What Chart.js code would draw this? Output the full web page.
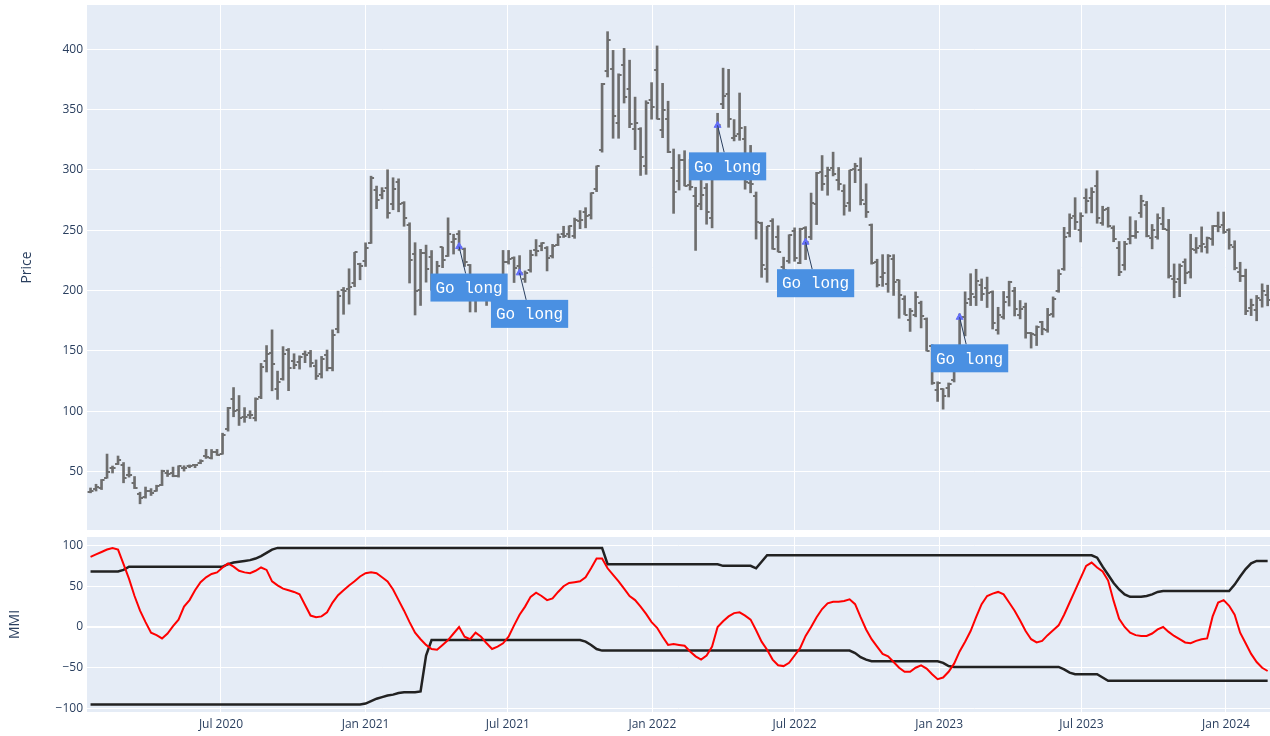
<!DOCTYPE html>
<html>
<head>
<meta charset="utf-8">
<script src="https://cdn.jsdelivr.net/npm/chart.js@4.4.0/dist/chart.umd.min.js"></script>
<style>
html,body{margin:0;padding:0;background:#ffffff;}
#wrap{position:relative;width:1270px;height:736px;overflow:hidden;background:#ffffff;}
#c1{position:absolute;left:0;top:0;}
#c2{position:absolute;left:0;top:531px;}
</style>
</head>
<body>
<div id="wrap">
<canvas id="c1" width="1270" height="531"></canvas>
<canvas id="c2" width="1270" height="205"></canvas>
</div>
<script>
// ---------------- DATA ----------------
// weekly bars (week ending Friday), first week ends 2020-01-17
const firstWeek = '2020-01-17';

const opens = [
 32.9,35.3,36.1,44.9,53.3,56.1,55.9,47.4,40.4,31.3,28.9,34.0,34.1,39.3,48.8,49.2,46.7,52.7,55.1,55.6,57.2,62.7,61.1,66.6,64.6,85.1,110.6,101.3,95.7,96.6,94.8,111.8,141.8,148.2,118.7,127.0,151.0,141.5,141.0,147.3,148.7,137.2,131.3,146.5,136.3,167.8,200.7,201.6,206.3,222.0,224.8,
 239.8,283.1,279.3,285.0,271.4,289.9,272.7,254.2,230.0,200.2,231.3,228.0,205.2,235.9,228.6,239.9,247.0,234.6,221.6,191.9,193.9,209.3,197.3,204.0,208.2,223.9,227.0,220.7,209.7,216.7,233.3,236.7,235.0,228.3,238.2,246.7,246.7,244.9,257.7,265.5,262.5,283.9,316.8,381.7,383.3,339.2,387.3,366.7,333.8,333.7,303.6,357.9,
 382.6,333.3,342.2,301.6,290.9,307.9,287.2,278.0,271.7,285.3,260.2,305.0,355.0,363.0,326.7,329.7,326.0,289.0,278.7,255.7,218.3,257.9,244.3,219.3,224.3,249.3,223.0,252.0,244.7,272.0,298.3,295.0,301.7,291.7,282.8,272.7,300.7,300.1,271.8,254.5,223.9,211.0,205.8,226.2,208.6,192.8,175.9,179.9,189.4,176.1,154.0,117.5,
 118.5,119.0,125.7,135.9,178.1,193.0,194.4,205.0,202.0,198.5,167.5,178.1,194.4,199.9,179.9,186.3,164.7,163.2,173.7,167.7,180.7,200.0,217.8,247.9,261.5,250.1,276.5,276.5,286.6,255.9,267.5,251.5,235.7,221.6,242.6,245.0,264.3,271.2,243.4,244.8,255.3,250.0,210.0,209.3,224.0,215.6,234.0,236.9,235.8,242.7,253.8,254.5,
 250.1,236.1,215.1,212.3,185.6,184.3,192.1,196.1
];
const highs = [
 36.5,39.6,43.5,64.6,54.7,63.0,57.6,53.8,46.0,33.0,37.3,36.0,38.8,51.3,51.3,53.8,54.9,54.9,55.6,56.0,59.9,68.5,68.4,68.5,81.9,103.3,119.7,113.1,103.1,100.5,111.2,139.7,154.5,167.5,133.3,153.6,152.1,147.7,146.0,150.0,150.5,142.6,145.5,150.8,167.5,199.6,202.6,218.1,231.7,222.7,239.6,
 294.8,286.6,285.3,300.1,293.5,292.6,273.7,256.2,239.7,234.2,237.7,233.2,224.3,236.0,260.3,246.7,249.7,235.3,221.7,201.0,211.9,211.3,203.5,208.3,233.3,233.3,228.0,229.0,216.3,233.5,242.3,239.7,236.5,238.3,247.0,253.3,253.7,260.1,266.3,268.7,281.1,303.3,371.7,414.5,399.0,379.6,400.7,390.9,360.3,335.0,357.3,372.3,
 402.7,371.7,356.9,317.3,312.7,315.9,308.8,285.6,296.6,288.7,302.3,346.9,384.3,383.3,341.7,363.7,336.0,320.3,281.7,256.7,253.3,259.6,253.7,227.7,246.3,252.0,251.7,253.0,280.8,298.0,311.9,302.3,314.7,302.0,287.7,299.8,305.5,310.0,288.5,255.2,226.0,229.8,229.9,229.8,208.9,195.7,185.2,198.9,191.3,177.4,155.2,124.5,
 118.8,123.5,136.7,180.7,199.0,214.0,217.7,209.7,211.2,199.8,186.2,199.3,207.8,202.7,191.8,189.7,165.3,170.8,174.6,185.3,194.8,217.3,252.4,263.6,277.0,264.5,284.3,285.3,299.3,269.9,269.1,253.7,240.7,240.8,261.2,258.0,279.0,273.9,254.8,263.6,268.9,259.0,222.1,222.1,226.3,246.7,244.0,252.8,244.4,253.9,265.1,265.1,
 251.3,241.3,223.5,217.8,193.0,196.0,205.6,204.5
];
const lows = [
 32.5,34.0,35.2,44.6,48.9,55.9,40.8,45.5,36.0,23.4,28.1,30.3,33.8,38.5,46.0,45.8,45.5,50.5,53.3,53.3,56.6,61.0,60.5,63.5,64.5,83.6,95.5,88.3,90.9,94.0,92.0,110.5,132.6,117.0,109.9,125.8,117.1,135.3,135.0,140.3,136.7,126.4,127.6,133.5,133.5,165.0,180.4,188.8,203.3,209.0,220.0,
 239.1,267.9,276.0,260.0,267.0,265.3,253.3,206.3,179.8,187.7,207.0,200.2,198.3,219.0,228.3,230.3,233.3,220.0,182.3,182.3,193.2,187.7,190.7,197.5,203.3,222.0,206.7,213.4,206.8,215.3,228.7,233.0,216.3,227.0,237.3,244.0,243.8,243.3,251.3,252.0,259.3,282.0,314.7,377.0,326.2,326.2,355.4,335.0,316.8,295.4,296.3,342.0,
 342.0,326.7,314.3,264.0,283.3,286.7,283.3,233.3,267.0,255.0,252.0,304.7,350.7,335.3,324.0,324.5,284.0,281.0,242.7,211.0,206.9,234.3,232.0,206.7,222.7,224.3,222.3,225.7,242.3,254.7,283.0,279.0,295.0,283.3,262.5,265.7,289.4,271.0,260.6,221.9,203.0,203.5,198.6,196.0,177.1,180.2,166.2,178.3,169.1,150.0,122.3,108.2,
 101.8,111.9,124.3,134.3,162.5,187.6,187.6,191.8,186.0,168.2,163.9,176.4,187.2,179.0,176.6,160.6,152.4,154.5,163.4,165.5,178.0,198.6,216.8,244.5,250.6,240.3,264.2,264.4,255.8,254.1,252.5,240.5,212.4,217.0,238.7,243.3,260.6,244.5,234.6,242.6,250.5,210.4,194.1,195.0,205.7,210.4,231.0,231.9,231.0,237.5,248.7,247.4,
 234.3,217.2,207.5,180.1,179.3,175.0,186.3,187.4
];
const closes = [
 34.0,37.7,43.4,49.9,53.3,60.1,44.5,46.9,36.4,28.5,34.3,32.0,38.2,50.3,48.3,46.8,54.6,53.3,54.5,55.7,59.0,62.4,66.7,64.0,80.6,103.0,100.1,94.5,95.4,96.8,110.0,136.7,147.6,139.4,124.2,147.4,135.8,138.4,144.7,146.6,140.2,129.3,143.3,136.2,163.2,195.3,199.7,203.3,231.7,220.6,235.2,
 293.3,275.4,282.2,264.5,284.1,272.0,260.4,225.2,199.3,231.2,218.3,206.2,220.6,225.7,246.6,243.1,236.5,224.1,196.6,193.6,208.4,199.7,203.3,207.8,224.0,226.3,219.0,214.7,214.5,229.1,233.0,239.1,226.8,237.3,244.5,245.4,253.2,258.1,258.4,261.8,281.0,303.2,371.3,407.4,344.5,379.0,360.6,338.3,339.0,310.9,355.7,352.3,
 342.3,349.9,314.6,282.1,307.8,286.7,285.7,270.0,279.4,265.1,301.8,336.9,361.5,341.8,328.3,335.0,290.3,288.6,256.5,221.3,253.2,234.5,232.2,216.8,245.7,227.3,250.8,240.1,272.2,297.2,288.2,300.0,296.7,288.1,270.2,299.7,303.4,275.3,265.3,223.1,205.0,214.4,228.5,207.5,196.0,180.2,182.9,194.9,179.1,150.2,123.2,123.2,
 113.1,122.4,133.4,177.9,190.0,196.9,208.3,196.9,197.8,173.4,180.1,190.4,207.5,185.1,185.0,165.1,164.3,170.1,168.0,180.1,193.2,214.0,244.4,260.5,256.6,261.8,274.4,281.4,260.0,266.4,253.9,242.7,215.5,238.6,245.0,248.5,274.4,244.9,250.2,260.5,251.1,212.0,207.3,220.0,214.7,234.3,235.5,238.8,243.8,253.5,252.5,248.5,
 237.5,218.9,212.2,183.3,187.9,193.6,200.0,192.0
];

const mmi = [
 86,89,92,95,97,95,77,59,38,20,
 6,-7,-10,-14,-8,1,9,25,33,45,
 55,61,65,67,73,78,74,69,67,66,
 69,73,70,56,51,47,45,43,40,27,
 14,12,13,18,30,39,45,51,56,62,
 66,67,66,61,56,46,33,20,6,-7,
 -15,-22,-27,-28,-22,-16,-8,0,-12,-15,
 -7,-12,-20,-27,-24,-20,-12,2,15,25,
 37,42,38,33,35,43,50,54,55,56,
 61,72,84,84,72,64,56,47,38,33,
 25,16,6,-1,-12,-22,-21,-22,-23,-30,
 -36,-40,-35,-24,0,7,13,17,18,14,
 9,-4,-18,-28,-40,-47,-48,-44,-35,-26,
 -11,0,12,22,29,31,31,32,34,28,
 12,-3,-15,-24,-33,-36,-43,-50,-55,-55,
 -50,-47,-51,-58,-64,-62,-55,-45,-30,-18,
 -5,12,28,38,41,43,40,30,20,8,
 -5,-15,-19,-17,-10,-4,2,15,30,45,
 60,75,79,73,68,57,32,10,0,-7,
 -10,-11,-11,-8,-3,0,-6,-11,-15,-19,
 -20,-17,-15,-14,13,30,33,26,15,-7,
 -20,-33,-43,-50,-54
];
const mmiUpper = [
 68,68,68,68,68,68,70,
 74,74,74,74,74,74,74,74,74,74,74,74,74,74,74,74,74,74,
 77,79,80,81,82,84,87,91,95,97,
 97,97,97,97,97,97,97,97,97,97,97,97,97,97,97,97,97,97,97,97,97,97,97,97,97,97,97,97,97,97,
 97,97,97,97,97,97,97,97,97,97,97,97,97,97,97,97,97,97,97,97,97,97,97,97,97,97,97,97,97,
 77,77,77,77,77,77,77,77,77,77,77,77,77,77,77,77,77,77,77,77,77,
 75,75,75,75,75,75,
 72,80,
 88,88,88,88,88,88,88,88,88,88,88,88,88,88,88,88,88,88,88,88,88,88,88,88,88,88,88,88,88,88,
 88,88,88,88,88,88,88,88,88,88,88,88,88,88,88,88,88,88,88,88,88,88,88,88,88,88,88,88,88,88,
 85,74,64,54,46,40,37,37,37,38,40,43,
 44,44,44,44,44,44,44,44,44,44,44,44,44,
 52,62,71,78,81,81,81
];
const mmiLower = [
 -95,-95,-95,-95,-95,-95,-95,-95,-95,-95,-95,-95,-95,-95,-95,-95,-95,-95,-95,-95,-95,-95,-95,-95,-95,
 -95,-95,-95,-95,-95,-95,-95,-95,-95,-95,-95,-95,-95,-95,-95,-95,-95,-95,-95,-95,-95,-95,-95,-95,-95,
 -94,
 -91,-88,-86,-84,-83,-81,-80,-80,-80,-79,-35,
 -16,-16,-16,-16,-16,-16,-16,-16,-16,-16,-16,-16,-16,-16,-16,-16,-16,-16,-16,-16,-16,-16,-16,-16,-16,-16,-16,-16,
 -18,-22,-27,-29,
 -29,-29,-29,-29,-29,-29,-29,-29,-29,-29,-29,-29,-29,-29,-29,-29,-29,-29,-29,-29,-29,-29,-29,
 -29,-29,-29,-29,-29,-29,-29,-29,-29,-29,-29,-29,-29,-29,-29,-29,-29,-29,-29,-29,-29,-29,
 -32,-37,-40,
 -42,-42,-42,-42,-42,-42,-42,-42,-42,-42,-42,-42,-42,
 -44,-48,
 -49,-49,-49,-49,-49,-49,-49,-49,-49,-49,-49,-49,-49,-49,-49,-49,-49,-49,-49,-49,
 -52,-56,
 -58,-58,-58,-58,-58,
 -62,
 -66,-66,-66,-66,-66,-66,-66,-66,-66,-66,-66,-66,-66,-66,-66,-66,-66,-66,-66,-66,-66,-66,-66,-66,-66,-66,-66,-66,-66,-66
];

// "Go long" signals (date, price)
const signalDates = ['2021-04-30','2021-07-16','2022-03-25','2022-07-15','2023-01-27'];
const signalPrices = [236.5, 214.7, 336.9, 240.1, 177.9];
const signalLabel = 'Go long';

// axis tick values
const priceTicks = [50,100,150,200,250,300,350,400];
const mmiTicks = [-100,-50,0,50,100];
const xTickDates = ['2020-07-01','2021-01-01','2021-07-01','2022-01-01','2022-07-01','2023-01-01','2023-07-01','2024-01-01'];

// ---------------- SETUP ----------------
const DAY = 86400000;
const t0 = Date.parse(firstWeek);
const weekTs = opens.map((_, i) => t0 + i * 7 * DAY);
const xTicksTs = xTickDates.map(d => Date.parse(d));
const X_MIN = Date.parse('2020-01-12') + DAY / 2;
const X_MAX = Date.parse('2024-02-26');
const MONTHS = ['Jan','Feb','Mar','Apr','May','Jun','Jul','Aug','Sep','Oct','Nov','Dec'];

const FONT = "'Open Sans', 'Noto Sans', sans-serif";
const TXT = '#2a3f5f';
const PLOT_BG = '#E5ECF6';
const OHLC_COLOR = '#6e6e6e';

const plotBg = {
  id: 'plotBg',
  beforeDraw(chart) {
    const {ctx, chartArea: a} = chart;
    ctx.save();
    ctx.fillStyle = PLOT_BG;
    ctx.fillRect(a.left, a.top, a.right - a.left, a.bottom - a.top);
    ctx.restore();
  }
};

function tickImage(side) {
  const c = document.createElement('canvas');
  c.width = 8; c.height = 2;
  const g = c.getContext('2d');
  g.fillStyle = OHLC_COLOR;
  if (side < 0) g.fillRect(1, 0, 3, 2); else g.fillRect(4, 0, 3, 2);
  return c;
}

const minusFmt = v => String(v).replace('-', '\u2212');

function xScale(showLabels, height) {
  return {
    type: 'linear',
    min: X_MIN, max: X_MAX,
    offset: false,
    afterBuildTicks(s) { s.ticks = xTicksTs.map(v => ({value: v})); },
    afterFit(s) { s.height = height; s.paddingLeft = 0; s.paddingRight = 0; },
    grid: { color: '#ffffff', lineWidth: 1, drawTicks: false, offset: false },
    border: { display: false },
    ticks: {
      display: showLabels,
      padding: 5,
      color: TXT,
      font: { family: FONT, size: 12 },
      maxRotation: 0,
      autoSkip: false,
      callback(v) { const d = new Date(v); return MONTHS[d.getUTCMonth()] + ' ' + d.getUTCFullYear(); }
    }
  };
}

function yScale(min, max, ticks, title, titlePad, zeroBold) {
  return {
    type: 'linear',
    min: min, max: max,
    afterBuildTicks(s) { s.ticks = ticks.map(v => ({value: v})); },
    afterFit(s) { s.width = 87; s.paddingTop = 0; s.paddingBottom = 0; },
    grid: {
      color: '#ffffff',
      lineWidth: c => (zeroBold && c.tick && c.tick.value === 0) ? 2 : 1,
      drawTicks: false
    },
    border: { display: false },
    ticks: { padding: 4, color: TXT, font: { family: FONT, size: 12 }, callback: v => minusFmt(v) },
    title: { display: true, text: title, color: TXT, font: { family: FONT, size: 14 }, padding: { top: titlePad, bottom: 0 } }
  };
}

// annotation plugin for the "Go long" callouts
const goLongPlugin = {
  id: 'goLong',
  afterDatasetsDraw(chart) {
    const {ctx} = chart;
    const xs = chart.scales.x, ys = chart.scales.y;
    ctx.save();
    ctx.font = "16px 'Liberation Mono', 'Courier New', monospace";
    const tw = ctx.measureText(signalLabel).width;
    const bw = tw + 10, bh = 28;
    signalDates.forEach((d, k) => {
      const px = xs.getPixelForValue(Date.parse(d));
      const py = ys.getPixelForValue(signalPrices[k]);
      const cx = px + 10, cy = py + 41;
      const dx = px - cx, dy = py - cy;
      const tEdge = (bh / 2) / Math.abs(dy);
      ctx.strokeStyle = TXT;
      ctx.lineWidth = 1;
      ctx.beginPath();
      ctx.moveTo(cx + dx * tEdge, cy + dy * tEdge);
      ctx.lineTo(px, py);
      ctx.stroke();
      ctx.fillStyle = '#4a90e2';
      ctx.fillRect(cx - bw / 2, cy - bh / 2, bw, bh);
      ctx.fillStyle = '#ffffff';
      ctx.textAlign = 'center';
      ctx.textBaseline = 'middle';
      ctx.fillText(signalLabel, cx, cy + 1);
    });
    ctx.restore();
  }
};

// ---------------- TOP CHART (price OHLC) ----------------
new Chart(document.getElementById('c1'), {
  type: 'line',
  data: {
    datasets: [
      {
        type: 'line', label: 'signals', showLine: false,
        data: signalDates.map((d, k) => ({x: Date.parse(d), y: signalPrices[k]})),
        pointStyle: 'triangle', pointRadius: 4, pointBackgroundColor: '#636efa', pointBorderColor: '#636efa', pointBorderWidth: 1
      },
      {
        type: 'line', label: 'open', showLine: false,
        data: weekTs.map((t, i) => ({x: t, y: opens[i]})),
        pointStyle: tickImage(-1), pointRadius: 3
      },
      {
        type: 'line', label: 'close', showLine: false,
        data: weekTs.map((t, i) => ({x: t, y: closes[i]})),
        pointStyle: tickImage(1), pointRadius: 3
      },
      {
        type: 'bar', label: 'range',
        data: weekTs.map((t, i) => ({x: t, y: [lows[i], highs[i]]})),
        backgroundColor: OHLC_COLOR, borderWidth: 0, barThickness: 2, grouped: false
      }
    ]
  },
  options: {
    responsive: false, animation: false, events: [],
    layout: { autoPadding: false, padding: { left: 0, right: 0, top: 5, bottom: 0 } },
    plugins: { legend: { display: false }, tooltip: { enabled: false } },
    scales: {
      x: xScale(false, 1),
      y: yScale(1.7, 436.6, priceTicks, 'Price', 19, false)
    }
  },
  plugins: [plotBg, goLongPlugin]
});

// ---------------- BOTTOM CHART (MMI) ----------------
new Chart(document.getElementById('c2'), {
  type: 'line',
  data: {
    datasets: [
      { label: 'MMI', data: weekTs.map((t, i) => ({x: t, y: mmi[i]})), borderColor: '#ff0000', borderWidth: 2, pointRadius: 0, tension: 0 },
      { label: 'upper', data: weekTs.map((t, i) => ({x: t, y: mmiUpper[i]})), borderColor: '#222222', borderWidth: 2.5, pointRadius: 0, tension: 0 },
      { label: 'lower', data: weekTs.map((t, i) => ({x: t, y: mmiLower[i]})), borderColor: '#222222', borderWidth: 2.5, pointRadius: 0, tension: 0 }
    ]
  },
  options: {
    responsive: false, animation: false, events: [],
    layout: { autoPadding: false, padding: { left: 0, right: 0, top: 6, bottom: 0 } },
    plugins: { legend: { display: false }, tooltip: { enabled: false } },
    scales: {
      x: xScale(true, 24),
      y: yScale(-104.3, 110.4, mmiTicks, 'MMI', 7, true)
    }
  },
  plugins: [plotBg]
});
</script>
</body>
</html>
